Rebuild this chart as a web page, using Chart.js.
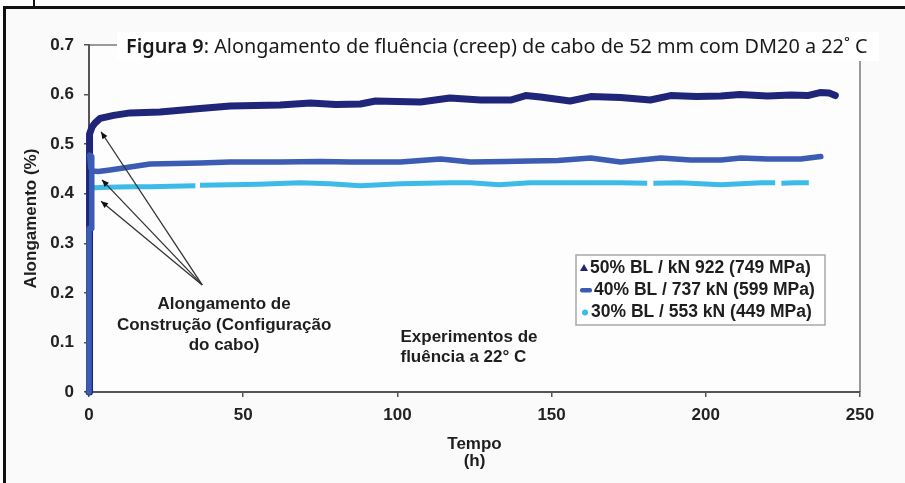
<!DOCTYPE html>
<html><head><meta charset="utf-8">
<script src="https://cdn.jsdelivr.net/npm/chart.js@4"></script>
<style>html,body{margin:0;padding:0;background:#fff;}canvas{display:block;}</style>
</head><body>
<canvas id="c" width="905" height="483"></canvas>
<script>
// ---------- text ----------
const titleBold = 'Figura 9';
const titleRest = ': Alongamento de fluência (creep) de cabo de 52 mm com DM20 a 22˚ C';
const xAxisTitle = ['Tempo', '(h)'];
const yAxisTitle = 'Alongamento (%)';
const xTicks = [0, 50, 100, 150, 200, 250];
const yTicks = [0, 0.1, 0.2, 0.3, 0.4, 0.5, 0.6, 0.7];
const seriesLabels = ['50% BL / kN 922 (749 MPa)', '40% BL / 737 kN (599 MPa)', '30% BL / 553 kN (449 MPa)'];
const noteConstrucao = ['Alongamento de', 'Construção (Configuração', 'do cabo)'];
const noteExperimentos = ['Experimentos de', 'fluência a 22° C'];

// ---------- data (time h, elongation %) ----------
const t50 = [0,0.05,0.3,1,2,3.6,8,13.3,23,36,45.8,62,71.8,80,88,92.9,100,107.5,117,127,136.7,141.6,146.4,156,162.7,172.4,182,188.6,197,204.9,211,220,227.6,233,237,240,242];
const v50 = [0,0.49,0.52,0.535,0.543,0.552,0.558,0.563,0.565,0.572,0.577,0.579,0.583,0.58,0.581,0.587,0.586,0.585,0.593,0.589,0.589,0.598,0.595,0.587,0.596,0.594,0.589,0.598,0.596,0.597,0.6,0.597,0.599,0.598,0.604,0.603,0.598];

const t40 = [0,0,0.9,0.9,0.2,0.6,1,3,6.8,13.3,19.8,28,36,45.8,62,75,84.7,101,114,123.7,135,143,152,162.7,172.4,185.4,195,204.9,211.4,220,230.8,237.3];
const v40 = [0,0.33,0.33,0.475,0.478,0.452,0.446,0.445,0.448,0.454,0.46,0.461,0.462,0.464,0.464,0.465,0.464,0.464,0.47,0.464,0.465,0.466,0.467,0.472,0.464,0.472,0.468,0.468,0.472,0.47,0.47,0.475];

const t30 = [0,0.3,2,6,13.3,19.8,27,34.5,35,36,45.8,55,68.5,78,88,101,117,123.7,133,143,159,172.4,181,181.8,183,191.6,204.9,218,222.5,223.3,224.5,229,233.4];
const v30 = [0.36,0.414,0.412,0.413,0.414,0.414,0.415,0.416,null,0.417,0.418,0.419,0.422,0.42,0.416,0.42,0.422,0.422,0.418,0.422,0.422,0.422,0.421,null,0.421,0.422,0.418,0.422,0.422,null,0.421,0.422,0.422];

// annotation anchors in data units
const arrowFrom = [36.7, 0.216];
const arrowToT = [3.9, 4.2, 3.9];
const arrowToV = [0.525, 0.428, 0.385];
const noteConstrucaoAt = [43.8, 0.176];
const noteExperimentosAt = [101, 0.111];

const colors = ['#1f2579', '#3b5cb2', '#3cbbe8'];

function pts(t, v) { return t.map((x, i) => ({x: x, y: v[i]})); }

const FONT = "'Liberation Sans', Arial, sans-serif";

const decor = {
  id: 'decor',
  beforeDraw(chart) {
    const ctx = chart.ctx, W = chart.width, H = chart.height, a = chart.chartArea;
    ctx.save();
    ctx.fillStyle = '#ffffff'; ctx.fillRect(0, 0, W, H);
    ctx.fillStyle = '#fafafa'; ctx.fillRect(6, 9, W - 6, H - 9);
    ctx.fillStyle = '#fdfdfd'; ctx.fillRect(a.left, a.top, a.right - a.left, a.bottom - a.top);
    ctx.fillStyle = '#111';
    ctx.fillRect(3, 6, W - 3, 3);
    ctx.fillRect(3, 6, 3, H - 6);
    ctx.fillRect(33, 0, 2, 7);
    ctx.strokeStyle = '#9a9a9a'; ctx.lineWidth = 2;
    ctx.beginPath(); ctx.moveTo(a.left, a.top); ctx.lineTo(a.right, a.top); ctx.lineTo(a.right, a.bottom); ctx.stroke();
    ctx.restore();
  },
  afterDraw(chart) {
    const ctx = chart.ctx, xs = chart.scales.x, ys = chart.scales.y;
    ctx.save();
    // arrows
    const fx = xs.getPixelForValue(arrowFrom[0]), fy = ys.getPixelForValue(arrowFrom[1]);
    ctx.strokeStyle = '#333'; ctx.fillStyle = '#111'; ctx.lineWidth = 1.3;
    for (let i = 0; i < arrowToT.length; i++) {
      const tx = xs.getPixelForValue(arrowToT[i]), ty = ys.getPixelForValue(arrowToV[i]);
      ctx.beginPath(); ctx.moveTo(fx, fy); ctx.lineTo(tx, ty); ctx.stroke();
      const ang = Math.atan2(ty - fy, tx - fx), L = 7, w = 3;
      const bx = tx - L * Math.cos(ang), by = ty - L * Math.sin(ang);
      ctx.beginPath(); ctx.moveTo(tx, ty);
      ctx.lineTo(bx + w * Math.sin(ang), by - w * Math.cos(ang));
      ctx.lineTo(bx - w * Math.sin(ang), by + w * Math.cos(ang));
      ctx.closePath(); ctx.fill();
    }
    // notes
    ctx.fillStyle = '#1e1e1e'; ctx.font = 'bold 17px ' + FONT; ctx.textBaseline = 'middle';
    ctx.textAlign = 'center';
    const cx = xs.getPixelForValue(noteConstrucaoAt[0]), cy = ys.getPixelForValue(noteConstrucaoAt[1]);
    noteConstrucao.forEach((s, i) => ctx.fillText(s, cx, cy + i * 20.5));
    ctx.textAlign = 'left';
    const ex = xs.getPixelForValue(noteExperimentosAt[0]), ey = ys.getPixelForValue(noteExperimentosAt[1]);
    noteExperimentos.forEach((s, i) => ctx.fillText(s, ex, ey + i * 20.5));
    // legend
    ctx.fillStyle = '#ffffff'; ctx.fillRect(576, 255, 249, 70);
    ctx.strokeStyle = '#a8a8a8'; ctx.lineWidth = 1.5; ctx.strokeRect(576, 255, 249, 70);
    const rowsY = [268, 290, 312];
    ctx.fillStyle = colors[0];
    ctx.beginPath(); ctx.moveTo(584, rowsY[0] - 4); ctx.lineTo(588, rowsY[0] + 3); ctx.lineTo(580, rowsY[0] + 3); ctx.closePath(); ctx.fill();
    ctx.fillStyle = colors[1];
    ctx.beginPath(); ctx.roundRect(580, rowsY[1] - 2, 12, 4.5, 2); ctx.fill();
    ctx.fillStyle = colors[2];
    ctx.beginPath(); ctx.arc(585, rowsY[2] + 0.5, 3, 0, Math.PI * 2); ctx.fill();
    ctx.fillStyle = '#1e1e1e'; ctx.font = 'bold 17.5px ' + FONT; ctx.textAlign = 'left';
    const tx0 = [590, 594, 591];
    seriesLabels.forEach((s, i) => ctx.fillText(s, tx0[i], rowsY[i]));
    // title box
    ctx.fillStyle = '#ffffff'; ctx.fillRect(117, 32, 762, 29);
    let size = 18;
    const fam = "'Noto Sans', 'Open Sans', sans-serif";
    ctx.font = '600 ' + size + 'px ' + fam; let wb = ctx.measureText(titleBold).width;
    ctx.font = size + 'px ' + fam; let wr = ctx.measureText(titleRest).width;
    size = size * 742 / (wb + wr);
    ctx.font = '600 ' + size + 'px ' + fam; wb = ctx.measureText(titleBold).width;
    ctx.textBaseline = 'alphabetic'; ctx.fillStyle = '#1a1a1a';
    ctx.fillText(titleBold, 126, 53);
    ctx.font = size + 'px ' + fam; ctx.fillText(titleRest, 126 + wb, 53);
    ctx.restore();
  }
};

new Chart(document.getElementById('c'), {
  type: 'line',
  data: {
    datasets: [
      {label: seriesLabels[0], data: pts(t50, v50), borderColor: colors[0], borderWidth: 7, order: 2, borderJoinStyle: 'round', borderCapStyle: 'round'},
      {label: seriesLabels[1], data: pts(t40, v40), borderColor: colors[1], borderWidth: 5.5, order: 1, borderJoinStyle: 'round', borderCapStyle: 'round'},
      {label: seriesLabels[2], data: pts(t30, v30), borderColor: colors[2], borderWidth: 5, order: 3, borderCapStyle: 'butt'}
    ]
  },
  options: {
    responsive: false, maintainAspectRatio: false, animation: false, devicePixelRatio: 1,
    layout: {padding: {top: 45, right: 45, left: 0, bottom: 0}},
    elements: {point: {radius: 0, hoverRadius: 0}, line: {tension: 0, fill: false}},
    datasets: {line: {spanGaps: false, clip: 8}},
    plugins: {legend: {display: false}, title: {display: false}, tooltip: {enabled: false}},
    events: [],
    scales: {
      x: {
        type: 'linear', min: 0, max: 250,
        afterBuildTicks: s => { s.ticks = xTicks.map(v => ({value: v})); },
        afterFit: s => { s.height = 91; },
        grid: {drawOnChartArea: false, drawTicks: true, tickLength: 5, color: '#555', lineWidth: 1.5},
        border: {display: true, color: '#555', width: 2},
        ticks: {padding: 8, color: '#222', font: {family: FONT, size: 17, weight: 'bold'}, maxRotation: 0},
        title: {display: true, text: xAxisTitle, color: '#1e1e1e', font: {family: FONT, size: 17, weight: 'bold', lineHeight: 0.95}, padding: {top: 0, bottom: 14}}
      },
      y: {
        type: 'linear', min: 0, max: 0.7,
        afterBuildTicks: s => { s.ticks = yTicks.map(v => ({value: v})); },
        afterFit: s => { s.width = 89; },
        grid: {drawOnChartArea: false, drawTicks: true, tickLength: 5, color: '#555', lineWidth: 1.5},
        border: {display: true, color: '#555', width: 2},
        ticks: {padding: 10, color: '#222', font: {family: FONT, size: 17, weight: 'bold'}, callback: v => String(Math.round(v * 10) / 10)},
        title: {display: true, text: yAxisTitle, color: '#1e1e1e', font: {family: FONT, size: 17, weight: 'bold'}, padding: {top: 21, bottom: 0}}
      }
    }
  },
  plugins: [decor]
});
</script>
</body></html>
